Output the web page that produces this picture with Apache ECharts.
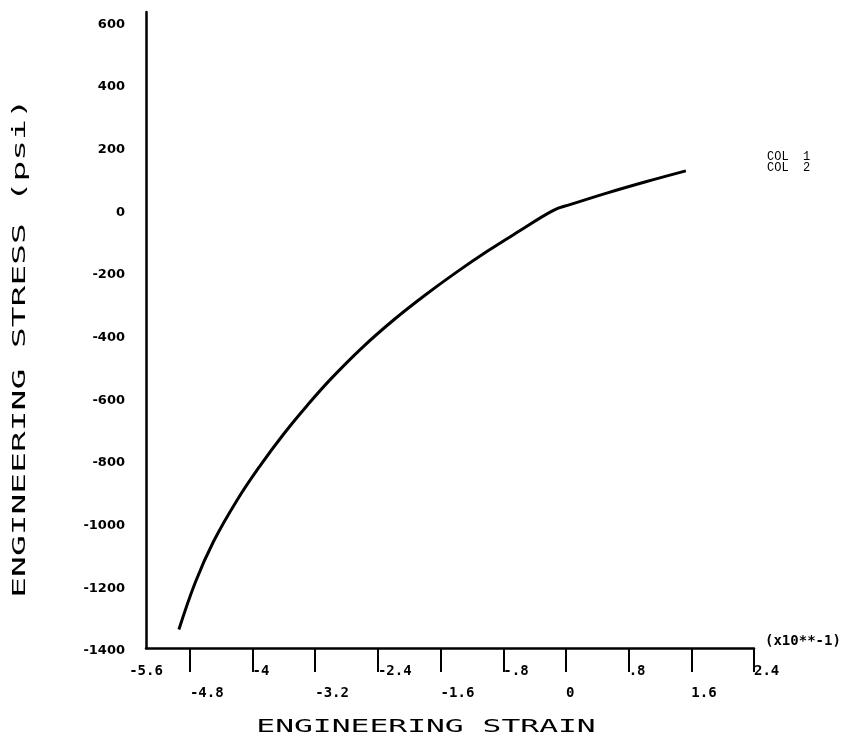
<!DOCTYPE html>
<html>
<head>
<meta charset="utf-8">
<script src="https://cdn.jsdelivr.net/npm/echarts@6/dist/echarts.min.js"></script>
<style>
html,body{margin:0;padding:0;background:#fff;}
#chart{width:849px;height:744px;}
</style>
</head>
<body>
<div id="chart"></div>
<script>
// ---- data ----
var strain = [-4.94,-4.73,-4.5,-4.2,-3.9,-3.6,-3.3,-3.0,-2.6,-2.2,-1.8,-1.4,-1.0,-0.6,-0.16,0.05,0.52,1.03,1.53];
var stress = [-1341,-1190,-1061,-929,-817,-716,-625,-541,-441,-353,-274,-201,-133,-70,-3,15,52,89,123];
var seriesNames = ['COL 1', 'COL 2'];

// x axis (strain, x10**-1)
var xStart = -5.36;          // left end of the drawn axis
var xStartLabel = '-5.6';    // label printed at the left end
var xEnd = 2.4;
var xTickValues = [-4.8,-4,-3.2,-2.4,-1.6,-0.8,0,0.8,1.6,2.4];
var xTickLabels = ['-4.8','-4','-3.2','-2.4','-1.6','-.8','0','.8','1.6','2.4'];
var xTickRow    = [2,1,2,1,2,1,2,1,2,1];

// y axis (stress, psi)
var yMin = -1400, yMax = 630;
var yTickValues = [-1400,-1200,-1000,-800,-600,-400,-200,0,200,400,600];
var yTickLabels = ['-1400','-1200','-1000','-800','-600','-400','-200','0','200','400','600'];

var xTitle = 'ENGINEERING STRAIN';
var yTitle = 'ENGINEERING STRESS (psi)';
var xUnit = '(x10**-1)';

function findIdx(arr, v){
  for (var i=0;i<arr.length;i++){ if (Math.abs(arr[i]-v)<1e-6) return i; }
  return -1;
}

var points = strain.map(function(s,i){ return [s, stress[i]]; });

var chart = echarts.init(document.getElementById('chart'), null, {renderer:'canvas'});
var monoFam = 'DejaVu Sans Mono';
chart.setOption({
  animation: false,
  backgroundColor: '#ffffff',
  grid: { left: 146, right: 95, top: 12, bottom: 96, containLabel: false },
  legend: {
    data: seriesNames,
    orient: 'vertical',
    left: 757, top: 146,
    itemWidth: 0, itemHeight: 1, itemGap: -1,
    icon: 'rect',
    selectedMode: false,
    formatter: function(n){ return n.replace(' ', '  '); },
    textStyle: { fontFamily: 'Liberation Mono', fontSize: 12, color: '#000', lineHeight: 11 }
  },
  xAxis: [{
    type: 'value', min: xStart, max: xEnd,
    name: xUnit, nameLocation: 'end', nameGap: 11,
    nameTextStyle: { fontFamily: monoFam, fontWeight: 'bold', fontSize: 14, color: '#000', verticalAlign: 'bottom', align: 'left' },
    splitLine: { show: false },
    axisLine: { show: true, onZero: false, lineStyle: { color: '#000', width: 2.5 } },
    axisTick: { show: true, customValues: xTickValues, length: 24, lineStyle: { color: '#000', width: 2 } },
    axisLabel: {
      show: true, customValues: xTickValues, align: 'left', verticalAlign: 'top', margin: 16,
      formatter: function(v){
        var i = findIdx(xTickValues, v);
        if (i < 0) return '';
        return (xTickRow[i] === 1 ? '{a|' : '{b|') + xTickLabels[i] + '}';
      },
      rich: {
        a: { fontFamily: monoFam, fontWeight: 'bold', fontSize: 14, color: '#000' },
        b: { fontFamily: monoFam, fontWeight: 'bold', fontSize: 14, color: '#000', padding: [22,0,0,0] }
      }
    }
  },{
    type: 'value', min: xStart, max: xEnd, position: 'bottom', offset: 0,
    splitLine: { show: false },
    axisLine: { show: false }, axisTick: { show: false },
    axisLabel: {
      show: true, customValues: [xStart], align: 'center', verticalAlign: 'top', margin: 16,
      formatter: function(v){ return xStartLabel; },
      fontFamily: monoFam, fontWeight: 'bold', fontSize: 14, color: '#000'
    }
  }],
  yAxis: {
    type: 'value', min: yMin, max: yMax,
    splitLine: { show: false },
    axisLine: { show: true, onZero: false, lineStyle: { color: '#000', width: 2.5 } },
    axisTick: { show: false },
    axisLabel: {
      show: true, customValues: yTickValues, margin: 21, align: 'right', verticalAlign: 'middle',
      formatter: function(v){ var i = findIdx(yTickValues, v); return i < 0 ? '' : '{v|' + yTickLabels[i] + '}'; },
      rich: { v: { fontFamily: 'DejaVu Sans', fontWeight: 'bold', fontSize: 13, color: '#000', padding: [6,0,0,0] } }
    }
  },
  series: [{
    name: seriesNames[0], type: 'line', data: points, xAxisIndex: 0,
    showSymbol: false, smooth: 0.4,
    lineStyle: { color: '#000', width: 3 }, itemStyle: { color: '#000' }
  },{
    name: seriesNames[1], type: 'line', data: [], xAxisIndex: 0,
    showSymbol: false,
    lineStyle: { color: '#000', width: 3 }, itemStyle: { color: '#000' }
  }],
  graphic: [{
    type: 'text', x: 426, y: 727, scaleX: 1.74,
    style: { text: xTitle, fontFamily: monoFam, fontSize: 18, fill: '#000', align: 'center', verticalAlign: 'middle' }
  },{
    type: 'text', x: 20, y: 348, rotation: Math.PI/2, scaleX: 1.92,
    style: { text: yTitle, fontFamily: monoFam, fontSize: 18, fill: '#000', align: 'center', verticalAlign: 'middle' }
  }]
});
</script>
</body>
</html>
